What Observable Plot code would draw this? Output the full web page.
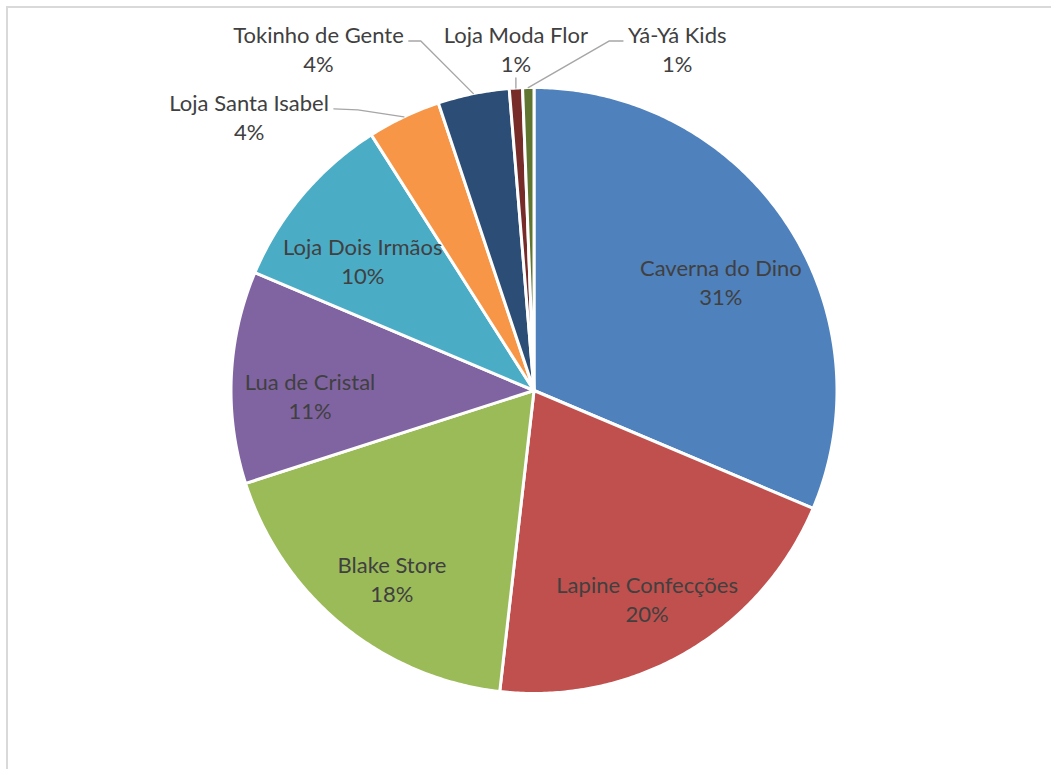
<!DOCTYPE html>
<html><head><meta charset="utf-8">
<script src="https://cdn.jsdelivr.net/npm/d3@7"></script>
<script src="https://cdn.jsdelivr.net/npm/@observablehq/plot@0.6"></script>
<style>
html,body{margin:0;padding:0;background:#fff;overflow:hidden}
#wrap{position:relative;width:1051px;height:769px;overflow:hidden;background:#fff}
#chart{position:absolute;left:0;top:0}
#frame{position:absolute;left:6px;top:6px;width:2000px;height:2000px;border-left:2px solid #d9d9d9;border-top:2px solid #d9d9d9;box-sizing:border-box;pointer-events:none}
</style></head>
<body><div id="wrap"><div id="chart"></div><div id="frame"></div></div>
<script>
// ---- data ----
const names = ["Caverna do Dino", "Lapine Confecções", "Blake Store", "Lua de Cristal", "Loja Dois Irmãos", "Loja Santa Isabel", "Tokinho de Gente", "Loja Moda Flor", "Yá-Yá Kids"];
const values = [31.3, 20.4, 18.2, 11.3, 9.6, 3.9, 3.8, 0.7, 0.6];
const palette = ["#4F81BD", "#C0504D", "#9BBB59", "#8064A2", "#4BACC6", "#F79646", "#2C4D75", "#772C2A", "#5F7530"];

// ---- layout ----
const W = 1051, H = 769, CX = 533.5, CY = 390, R = 303;
const FONT = "Lato", FS = 22, LH = 29;
const INNER_R = 0.74, GAP = 40, SIDE_LEADER = 70;

const total = d3.sum(values);
const arcs = d3.pie().sort(null).value(d => d)(values);
const slices = names.map((name, i) => {
  const a0 = arcs[i].startAngle, a1 = arcs[i].endAngle;
  return {name, value: values[i], frac: values[i] / total, pct: Math.round(values[i] / total * 100), a0, a1, mid: (a0 + a1) / 2};
});

// slice polygons (unit circle coordinates)
const polyPts = [];
for (const s of slices) {
  polyPts.push({name: s.name, x: 0, y: 0});
  const n = Math.max(2, Math.ceil((s.a1 - s.a0) / (Math.PI / 360)));
  for (let k = 0; k <= n; k++) {
    const a = s.a0 + (s.a1 - s.a0) * k / n;
    polyPts.push({name: s.name, x: Math.sin(a), y: Math.cos(a)});
  }
}

const toUx = px => (px - CX) / R, toUy = py => (CY - py) / R;
const ctx = document.createElement("canvas").getContext("2d");
ctx.font = `${FS}px ${FONT}`;
const tw = t => ctx.measureText(t).width;

const innerLabels = [], outerLabels = [], leaders = [];
for (const s of slices.filter(s => s.frac >= 0.05)) {
  innerLabels.push({x: INNER_R * Math.sin(s.mid), y: INNER_R * Math.cos(s.mid), text: `${s.name}\n${s.pct}%`});
}
const outside = slices.filter(s => s.frac < 0.05).map(s => ({
  s, P: {x: CX + R * Math.sin(s.mid), y: CY - R * Math.cos(s.mid)},
  w: Math.max(tw(s.name), tw(s.pct + "%"))
}));
const nearTop = o => Math.min(o.s.mid, 2 * Math.PI - o.s.mid) <= 15 * Math.PI / 180;
const row = outside.filter(nearTop).sort((a, b) => a.P.x - b.P.x);
const side = outside.filter(o => !nearTop(o));

if (row.length) {
  const ai = Math.floor(row.length / 2);
  const anchor = row[ai];
  const rowY = anchor.P.y - 40;
  anchor.cx = anchor.P.x;
  for (let i = ai - 1; i >= 0; i--) row[i].cx = (row[i + 1].cx - row[i + 1].w / 2) - GAP - row[i].w / 2;
  for (let i = ai + 1; i < row.length; i++) row[i].cx = (row[i - 1].cx + row[i - 1].w / 2) + GAP + row[i].w / 2;
  row.forEach((o, i) => {
    outerLabels.push({x: toUx(o.cx), y: toUy(rowY), text: `${o.s.name}\n${o.s.pct}%`});
    let pts;
    if (i === ai) pts = [[o.P.x, rowY + 30], [o.P.x, o.P.y]];
    else if (i < ai) { const sx = o.cx + o.w / 2 + 5; pts = [[sx, rowY - 7], [sx + 12, rowY - 7], [o.P.x, o.P.y]]; }
    else { const sx = o.cx - o.w / 2 - 5; pts = [[sx, rowY - 7], [sx - 14, rowY - 7], [o.P.x, o.P.y]]; }
    pts.forEach(p => leaders.push({name: o.s.name, x: toUx(p[0]), y: toUy(p[1])}));
  });
}
for (const o of side) {
  const left = o.P.x < CX;
  const sx = left ? o.P.x - SIDE_LEADER : o.P.x + SIDE_LEADER;
  const sy = o.P.y - 8;
  const cx = left ? sx - 5 - o.w / 2 : sx + 5 + o.w / 2;
  outerLabels.push({x: toUx(cx), y: toUy(o.P.y - 0.5), text: `${o.s.name}\n${o.s.pct}%`});
  const bx = left ? sx + 24 : sx - 24;
  [[sx, sy], [bx, sy + 1], [o.P.x, o.P.y]].forEach(p => leaders.push({name: o.s.name, x: toUx(p[0]), y: toUy(p[1])}));
}

const textStyle = {x: "x", y: "y", text: "text", fill: "#404040", fontSize: FS, fontFamily: FONT, lineHeight: LH / FS, lineAnchor: "middle", textAnchor: "middle"};

const chart = Plot.plot({
  width: W, height: H,
  marginLeft: CX - R, marginRight: W - CX - R, marginTop: CY - R, marginBottom: H - CY - R,
  x: {domain: [-1, 1], axis: null},
  y: {domain: [-1, 1], axis: null},
  color: {domain: names, range: palette},
  style: {fontFamily: FONT, background: "transparent"},
  marks: [
    Plot.line(polyPts, {x: "x", y: "y", z: "name", fill: "name", stroke: "white", strokeWidth: 3, strokeLinejoin: "round", curve: "linear-closed"}),
    Plot.line(leaders, {x: "x", y: "y", z: "name", stroke: "#a6a6a6", strokeWidth: 1.4}),
    // inner labels: first line centred on the mid-angle point
    Plot.text(innerLabels, {...textStyle, dy: LH / 2}),
    Plot.text(outerLabels, textStyle)
  ]
});
document.getElementById("chart").appendChild(chart);
</script>
</body></html>
